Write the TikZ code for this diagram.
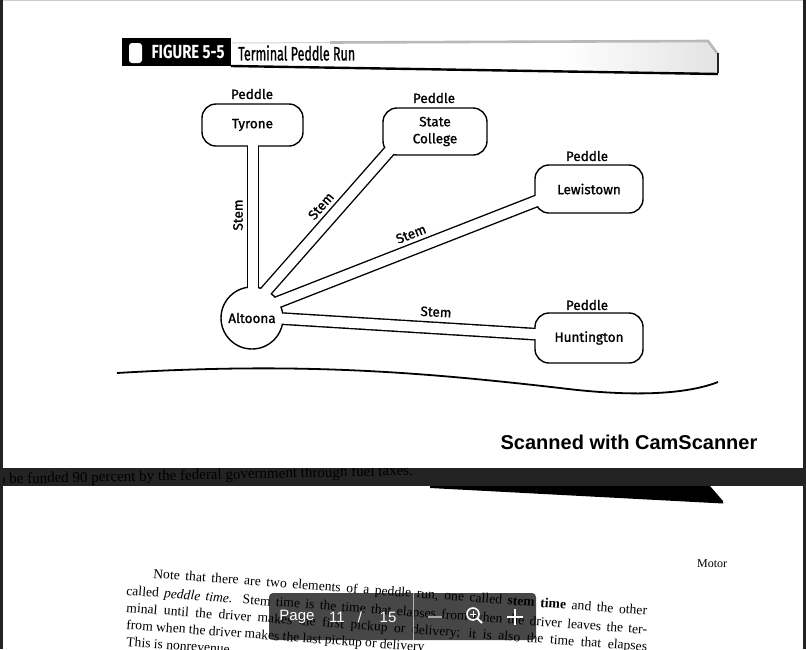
\documentclass[tikz,border=0pt]{standalone}
\usepackage{fontspec}
\setmainfont{Fira Sans}
\newfontfamily\diagfont[FakeBold=1.2]{Fira Sans}
\newfontfamily\bookserif{Liberation Serif}
\newfontfamily\arialfont{Liberation Sans}
\usetikzlibrary{calc}
\pgfdeclarelayer{pagebg}
\pgfdeclarelayer{stemback}
\pgfsetlayers{pagebg,stemback,main}
\definecolor{band}{HTML}{232323}
\begin{document}
\begin{tikzpicture}[x=1pt,y=-1pt,
  place/.style={draw, line width=1.4pt, fill=white, inner sep=0pt, font=\diagfont\fontsize{13.5}{17}\selectfont, align=center},
  box/.style={place, rounded corners=14pt},
  hub/.style={place, circle, minimum size=62pt},
  tag/.style={inner sep=0pt, font=\diagfont\fontsize{13.5}{15}\selectfont},
  stemout/.style={line width=12.8pt, line cap=butt, black},
  stemin/.style={line width=10pt, line cap=butt, white},
  pagetext/.style={inner sep=0pt, anchor=base west, rotate=-4.3, font=\bookserif\fontsize{13.6}{15}\selectfont},
  overlaytext/.style={inner sep=0pt, text=white, font=\arialfont\fontsize{15}{17}\selectfont},
]
\useasboundingbox (0,0) rectangle (806,649);
\clip (0,0) rectangle (806,649);
\begin{pgfonlayer}{pagebg}
  \fill[white] (0,0) rectangle (806,649);
\end{pgfonlayer}

% frame of the viewer
\fill[gray!40] (0,0) rectangle (806,1);
\fill[band] (0,0) rectangle (3,649);
\fill[band] (803,0) rectangle (806,649);

% header
\fill[left color=white, right color=gray!22] (560,41) -- (708,40) -- (718,53) -- (718,73) -- (560,71) -- cycle;
\draw[gray!55, line width=2.6pt] (330,42.5) -- (708,41) -- (717,53);
\draw[gray!35, line width=1pt] (232,43) -- (330,42.5);
\draw[black!85, line width=1.6pt] (718,53) -- (718,73);
\draw[black, line width=2.4pt] (231,66) -- (718,74);
\fill[black] (122,38) rectangle (231,66);
\fill[white, rounded corners=3pt] (129,43) rectangle (142,63);
\node[inner sep=0pt, text=white, font=\bfseries\fontsize{19}{21}\selectfont] (fig) at (188,52) {\scalebox{0.78}[1]{FIGURE 5-5}};
\node[inner sep=0pt, anchor=west, font=\diagfont\fontsize{19.5}{21}\selectfont] (ttl) at (238,53) {\scalebox{0.64}[1]{Terminal Peddle Run}};

% places
\node[hub] (alt) at (252,318) {Altoona};
\node[box, minimum width=101pt, minimum height=42pt] (ty) at (252.5,125) {Tyrone};
\node[box, minimum width=104pt, minimum height=47pt] (sc) at (435,131.5) {State\\College};
\node[box, minimum width=108pt, minimum height=48pt] (le) at (589,189) {Lewistown};
\node[box, minimum width=108pt, minimum height=50pt] (hu) at (589,338) {Huntington};

% stem end points
\coordinate (tya) at ($(alt.center)+(1,-23)$);
\coordinate (tyb) at ($(ty.center)+(0.5,16)$);
\coordinate (sca) at ($(alt.center)+(11,-23.5)$);
\coordinate (scb) at ($(sc.center)+(-38.7,11.5)$);
\coordinate (lea) at ($(alt.center)+(21.9,-14.3)$);
\coordinate (leb) at ($(le.center)+(-45.1,9.1)$);
\coordinate (hua) at ($(alt.center)+(25,0.3)$);
\coordinate (hub) at ($(hu.center)+(-48,-3.5)$);

\begin{pgfonlayer}{stemback}
  \draw[stemout] (tya) -- (tyb);
  \draw[stemout] (sca) -- (scb);
  \draw[stemout] (lea) -- (leb);
  \draw[stemout] (hua) -- (hub);
\end{pgfonlayer}
\draw[stemin] (tya) -- (tyb);
\draw[stemin] (sca) -- (scb);
\draw[stemin] (lea) -- (leb);
\draw[stemin] (hua) -- (hub);

% labels
\node[tag] (pty) at (252,94) {Peddle};
\node[tag] (psc) at (434,98) {Peddle};
\node[tag] (ple) at (587,156) {Peddle};
\node[tag] (phu) at (587,305) {Peddle};
\node[tag, rotate=90] (sty) at (238,215) {Stem};
\node[tag, rotate=49] (ssc) at (321,206) {Stem};
\node[tag, rotate=21.5] (sle) at (411,234) {Stem};
\node[tag, rotate=-3] (shu) at (436,312) {Stem};

% ground line
\draw[line width=1.8pt] (117,373) .. controls (300,362) and (420,372) .. (560,388) .. controls (640,398) and (690,393) .. (718,382);

% scanner caption
\node[inner sep=0pt, font=\arialfont\bfseries\fontsize{20}{22}\selectfont] (cs) at (629,442) {Scanned with CamScanner};

% dark band of the viewer
\fill[band] (3,468) rectangle (803,486);
\begin{scope}
  \clip (3,468) rectangle (803,486);
  \node[inner sep=0pt, anchor=base west, rotate=1.2, text=black, font=\bookserif\fontsize{15}{17}\selectfont] (bandtext) at (-2,484) {o be funded 90 percent by the federal government through fuel taxes.};
\end{scope}
\fill[black] (430,486) -- (710,486) -- (723,501) -- (723,503.5) -- (430,488) -- cycle;

% page text
\node[inner sep=0pt, anchor=base west, font=\bookserif\fontsize{12}{14}\selectfont] (motor) at (697,567) {Motor};
\node[pagetext] (l1) at (153,578) {\makebox[495pt][s]{Note that there are two elements of a peddle run, one called \textbf{stem time} and the other}};
\node[pagetext] (l2) at (126,595) {\makebox[522pt][s]{called \textit{peddle time}. Stem time is the time that elapses from when the driver leaves the ter-}};
\node[pagetext] (l3) at (126,612) {\makebox[522pt][s]{minal until the driver makes the first pickup or delivery; it is also the time that elapses}};
\node[pagetext] (l4) at (126,629) {from when the driver makes the last pickup or delivery};
\node[pagetext] (l5) at (126,646) {This is nonrevenue};

% viewer page control
\fill[black, opacity=0.72, rounded corners=4pt] (269,593) rectangle (536,640);
\draw[gray!60, line width=0.8pt] (413,593) -- (413,640);
\node[overlaytext] (pg) at (297,617) {Page};
\node[overlaytext] (pn) at (337,617) {11};
\node[overlaytext] (ps) at (360,617) {/};
\node[overlaytext] (pt) at (388,617) {15};
\draw[gray!70, line width=2pt] (428,617) -- (442,617);
\draw[white, line width=1.6pt] (473,614) circle (6pt);
\draw[white, line width=2pt] (477.5,618.5) -- (482,623);
\draw[white, line width=1pt] (470,614) -- (476,614) (473,611) -- (473,617);
\draw[white, line width=2.2pt] (507,617) -- (523,617) (515,609) -- (515,625);
\end{tikzpicture}
\end{document}
